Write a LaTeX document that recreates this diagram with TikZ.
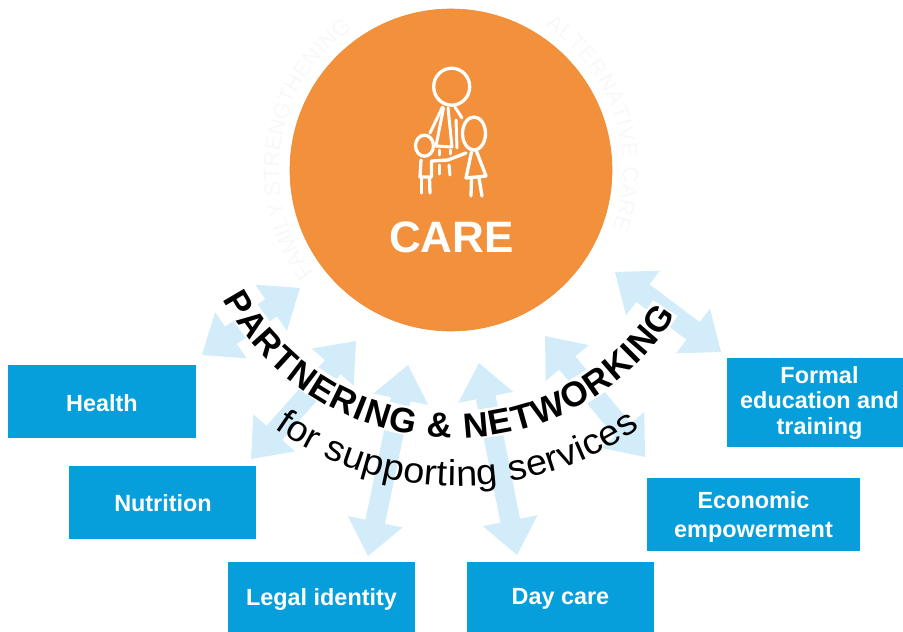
\documentclass[tikz,border=0pt]{standalone}
\usepackage{fontspec}
\setmainfont{Liberation Sans}
\newfontfamily\arcreg[FakeStretch=1.05]{Liberation Sans}
\usetikzlibrary{calc,decorations.text}
\definecolor{orangefill}{HTML}{F2903C}
\definecolor{orangeline}{HTML}{F28A2E}
\definecolor{boxblue}{HTML}{069FDB}
\definecolor{arrowblue}{HTML}{D3ECF9}
\definecolor{ghost}{HTML}{F8F8F8}
\newcommand{\dblarrow}[3]{%
  \coordinate (a) at (#1);\coordinate (b) at (#2);
  \fill[arrowblue] (a)
   -- ($(a)!35pt!(b)!28pt!90:(b)$) -- ($(a)!35pt!(b)!#3pt!90:(b)$)
   -- ($(b)!35pt!(a)!#3pt!-90:(a)$) -- ($(b)!35pt!(a)!28pt!-90:(a)$)
   -- (b)
   -- ($(b)!35pt!(a)!28pt!90:(a)$) -- ($(b)!35pt!(a)!#3pt!90:(a)$)
   -- ($(a)!35pt!(b)!#3pt!-90:(b)$) -- ($(a)!35pt!(b)!28pt!-90:(b)$)
   -- cycle;}
\tikzset{
  x=1pt,y=1pt,
  service/.style={fill=boxblue,inner sep=0pt,anchor=center},
  servicetext/.style={text=white,inner sep=0pt,align=center,
    font=\fontsize{23.4}{25.5}\selectfont\bfseries,anchor=center},
  icon/.style={draw=white,line width=3.3pt,line cap=round,line join=round},
  iconthin/.style={draw=white,line width=3pt,line cap=round,line join=round},
}
\begin{document}
\begin{tikzpicture}
\useasboundingbox (0,-632) rectangle (903,0);
% faint ghost lettering round the circle
\path[decorate,decoration={text along path,text align=fit to path,
  text={|\fontsize{22}{22}\selectfont\color{ghost}|FAMILY STRENGTHENING}}]
  (451,-170) ++(217:172) arc[start angle=217,end angle=127,radius=172];
\path[decorate,decoration={text along path,text align=fit to path,
  text={|\fontsize{22}{22}\selectfont\color{ghost}|ALTERNATIVE CARE}}]
  (451,-170) ++(57:172) arc[start angle=57,end angle=-20,radius=172];
% circle
\node[circle,fill=orangefill,draw=orangeline,line width=.6pt,minimum size=322pt,inner sep=0pt] (care) at (451,-170) {};
\node[text=white,font=\fontsize{44}{44}\selectfont\bfseries,anchor=center] (caretext) at (451.5,-237) {CARE};
% icon: adult
\draw[icon] (451.7,-86.7) ellipse[x radius=18,y radius=18.5];
\draw[iconthin] (442.5,-107) -- (430,-133);
\draw[iconthin] (443.5,-108) -- (436,-146) -- (452,-147) -- (448,-108);
\draw[iconthin] (455,-107) -- (462,-118);
\draw[iconthin] (456,-120) -- (457,-148);
\draw[iconthin] (439,-150) -- (439,-155);
\draw[iconthin] (450,-150) -- (450,-154);
\draw[iconthin] (439,-165) -- (439,-174);
\draw[iconthin] (449,-165) -- (450,-175);
% icon: small child
\draw[icon] (424.5,-145.7) ellipse[x radius=9,y radius=10.5];
\draw[icon] (421,-160) -- (420,-177) -- (431.5,-177) -- (431.5,-161);
\draw[icon] (421.5,-178) -- (421.5,-193);
\draw[icon] (429.5,-178) -- (430,-193);
\draw[icon] (432,-161) -- (448,-160) -- (466,-153);
% icon: larger child
\draw[icon] (474,-133.5) ellipse[x radius=11.5,y radius=16.5];
\draw[icon] (471.5,-152) -- (466,-178) -- (486,-176) -- (476,-150);
\draw[icon] (471.5,-178) -- (471,-196);
\draw[icon] (479,-178) -- (482,-196);
% double arrows
\dblarrow{300,-288}{202,-355}{10.5}
\dblarrow{356,-341}{251,-459}{10.5}
\dblarrow{408,-365}{368,-556}{10}
\dblarrow{479,-363}{517,-555}{10}
\dblarrow{545,-336}{645,-457}{10.5}
\dblarrow{615,-272}{721,-352}{11}
% white band behind the curved heading
\draw[white,line width=29pt] (454,-176) ++(208:249) arc[start angle=208,end angle=328,radius=249];
% curved texts
\path[decorate,decoration={text along path,text align=fit to path,
  text={|\fontsize{35}{35}\selectfont\bfseries|PARTNERING {\&} NETWORKING}}]
  (454,-176) ++(208:262) arc[start angle=208,end angle=328,radius=262];
\path[decorate,decoration={text along path,text align=fit to path,
  text={|\fontsize{36}{36}\arcreg|for supporting services}}]
  (457,-167) ++(235:319) arc[start angle=235,end angle=305,radius=319];
% boxes
\node[service,minimum width=188pt,minimum height=73pt] (health) at (102,-401.5) {};
\node[service,minimum width=187pt,minimum height=73pt] (nutrition) at (162.5,-502.5) {};
\node[service,minimum width=187pt,minimum height=70pt] (legal) at (321.5,-597) {};
\node[service,minimum width=187pt,minimum height=70pt] (daycare) at (560.5,-597) {};
\node[service,minimum width=213pt,minimum height=73pt] (econ) at (753.5,-514.5) {};
\node[service,minimum width=176pt,minimum height=89pt] (formal) at (815,-402.5) {};
\node[servicetext] (healthlabel) at (102,-403) {Health};
\node[servicetext] (nutritionlabel) at (163,-503) {Nutrition};
\node[servicetext] (legallabel) at (321.5,-599) {Legal identity};
\node[servicetext] (daycarelabel) at (560.5,-599) {Day care};
\node[servicetext,font=\fontsize{23.4}{29}\selectfont\bfseries] (econlabel) at (753.5,-516.5) {Economic\\empowerment};
\node[servicetext] (formallabel) at (819.5,-402.5) {Formal\\education and\\training};
\end{tikzpicture}
\end{document}
